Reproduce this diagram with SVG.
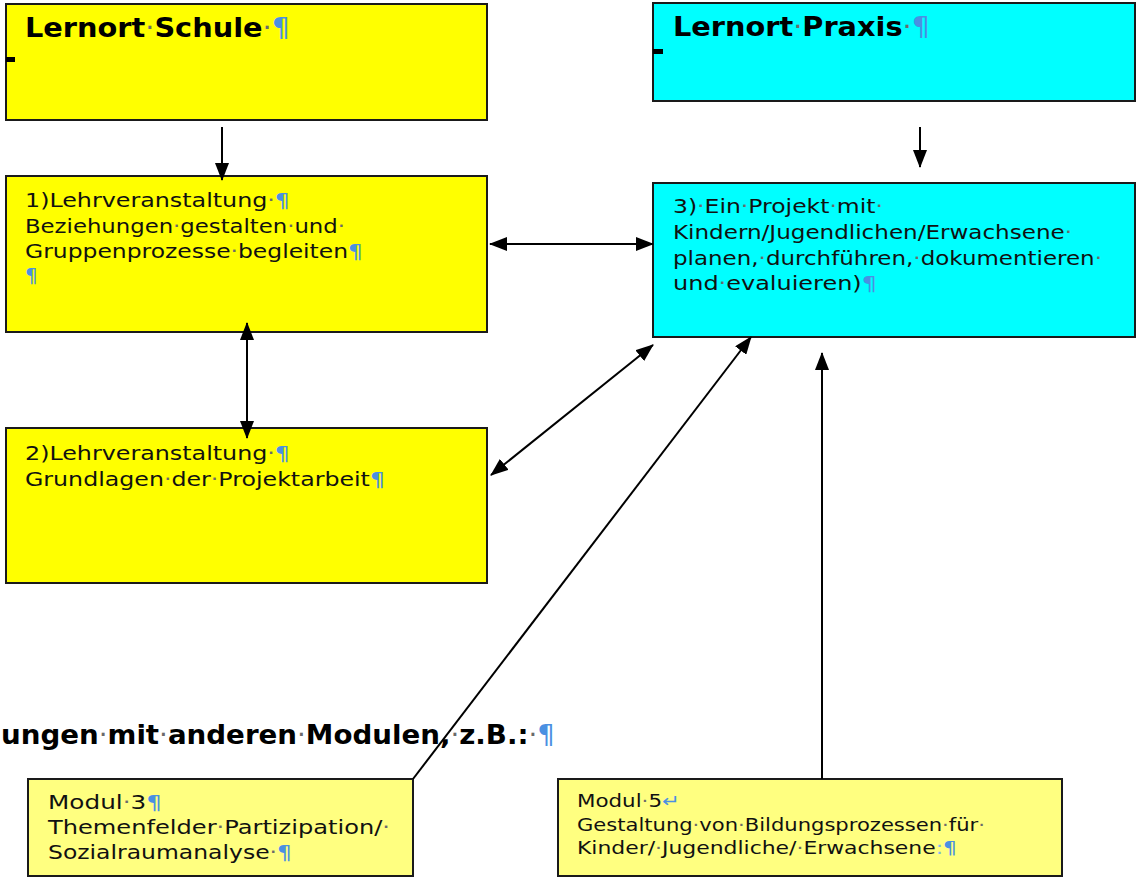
<svg xmlns="http://www.w3.org/2000/svg" width="1136" height="880" viewBox="0 0 1136 880">
<defs>
<marker id="ah" markerUnits="userSpaceOnUse" markerWidth="18" markerHeight="14" refX="17" refY="7" orient="auto-start-reverse" viewBox="0 0 18 14">
<path d="M0,0 L18,7 L0,14 z" fill="#000"/>
</marker>
<style>
.box{stroke:#1a1a1a;stroke-width:2}
.y{fill:#ffff00}
.c{fill:#00ffff}
.m{fill:#ffff80}
.t{font-family:"DejaVu Sans","Verdana",sans-serif;fill:#111}
.h{font-family:"DejaVu Sans","Verdana",sans-serif;font-weight:bold;font-size:26px;fill:#000}
.b{font-size:20px}
.s{font-size:19px}
.s5{font-size:17.5px}
.p{fill:#4a90e2;font-weight:normal}
.lb{fill:#7fb6ee}
.d{fill:#6a6a6a;font-weight:normal}
.con{stroke:#000;stroke-width:2;fill:none}
</style>
</defs>

<g id="lernort-schule">
<rect class="box y" x="6" y="4" width="481" height="116"/>
<rect x="6" y="57" width="9" height="5" fill="#000"/>
<text class="h" x="25" y="37" textLength="265" lengthAdjust="spacingAndGlyphs">Lernort<tspan class="d">·</tspan>Schule<tspan class="d">·</tspan><tspan class="p">¶</tspan></text>
</g>

<g id="lernort-praxis">
<rect class="box c" x="653" y="3" width="482" height="98"/>
<rect x="653" y="49" width="10" height="5" fill="#000"/>
<text class="h" x="673" y="36" textLength="257" lengthAdjust="spacingAndGlyphs">Lernort<tspan class="d">·</tspan>Praxis<tspan class="d">·</tspan><tspan class="p">¶</tspan></text>
</g>

<g id="lv1">
<rect class="box y" x="6" y="176" width="481" height="156"/>
<text class="t b" x="25" y="207" textLength="265" lengthAdjust="spacingAndGlyphs">1)Lehrveranstaltung<tspan class="d">·</tspan><tspan class="p">¶</tspan></text>
<text class="t b" x="25" y="233" textLength="320" lengthAdjust="spacingAndGlyphs">Beziehungen<tspan class="d">·</tspan>gestalten<tspan class="d">·</tspan>und<tspan class="d">·</tspan></text>
<text class="t b" x="25" y="258" textLength="338" lengthAdjust="spacingAndGlyphs">Gruppenprozesse<tspan class="d">·</tspan>begleiten<tspan class="p">¶</tspan></text>
<text class="t b" x="25" y="282"><tspan class="p">¶</tspan></text>
</g>

<g id="lv2">
<rect class="box y" x="6" y="428" width="481" height="155"/>
<text class="t b" x="25" y="460" textLength="265" lengthAdjust="spacingAndGlyphs">2)Lehrveranstaltung<tspan class="d">·</tspan><tspan class="p">¶</tspan></text>
<text class="t b" x="25" y="486" textLength="360" lengthAdjust="spacingAndGlyphs">Grundlagen<tspan class="d">·</tspan>der<tspan class="d">·</tspan>Projektarbeit<tspan class="p">¶</tspan></text>
</g>

<g id="projekt">
<rect class="box c" x="653" y="183" width="482" height="154"/>
<text class="t b" x="673" y="213" textLength="210" lengthAdjust="spacingAndGlyphs">3)<tspan class="d">·</tspan>Ein<tspan class="d">·</tspan>Projekt<tspan class="d">·</tspan>mit<tspan class="d">·</tspan></text>
<text class="t b" x="673" y="239" textLength="399" lengthAdjust="spacingAndGlyphs">Kindern/Jugendlichen/Erwachsene<tspan class="d">·</tspan></text>
<text class="t b" x="673" y="265" textLength="429" lengthAdjust="spacingAndGlyphs">planen,<tspan class="d">·</tspan>durchführen,<tspan class="d">·</tspan>dokumentieren<tspan class="d">·</tspan></text>
<text class="t b" x="673" y="290" textLength="204" lengthAdjust="spacingAndGlyphs">und<tspan class="d">·</tspan>evaluieren)<tspan class="p">¶</tspan></text>
</g>

<g id="heading">
<text class="h" x="1" y="744" textLength="554" lengthAdjust="spacingAndGlyphs">ungen<tspan class="d">·</tspan>mit<tspan class="d">·</tspan>anderen<tspan class="d">·</tspan>Modulen,<tspan class="d">·</tspan>z.B.:<tspan class="d">·</tspan><tspan class="p">¶</tspan></text>
</g>

<g id="modul3">
<rect class="box m" x="28" y="779" width="385" height="97"/>
<text class="t s" x="48" y="809" textLength="114" lengthAdjust="spacingAndGlyphs">Modul<tspan class="d">·</tspan>3<tspan class="p">¶</tspan></text>
<text class="t s" x="48" y="834" textLength="342" lengthAdjust="spacingAndGlyphs">Themenfelder<tspan class="d">·</tspan>Partizipation/<tspan class="d">·</tspan></text>
<text class="t s" x="48" y="859" textLength="244" lengthAdjust="spacingAndGlyphs">Sozialraumanalyse<tspan class="d">·</tspan><tspan class="p">¶</tspan></text>
</g>

<g id="modul5">
<rect class="box m" x="558" y="779" width="504" height="97"/>
<text class="t s5" x="577" y="807" textLength="103" lengthAdjust="spacingAndGlyphs">Modul<tspan class="d">·</tspan>5<tspan class="p">↵</tspan></text>
<text class="t s5" x="577" y="831" textLength="408" lengthAdjust="spacingAndGlyphs">Gestaltung<tspan class="d">·</tspan>von<tspan class="d">·</tspan>Bildungsprozessen<tspan class="d">·</tspan>für<tspan class="d">·</tspan></text>
<text class="t s5" x="577" y="854" textLength="380" lengthAdjust="spacingAndGlyphs">Kinder/<tspan class="d">·</tspan>Jugendliche/<tspan class="d">·</tspan>Erwachsene<tspan class="lb">:</tspan><tspan class="p">¶</tspan></text>
</g>

<g id="connectors">
<line class="con" x1="222" y1="127" x2="222" y2="180" marker-end="url(#ah)"/>
<line class="con" x1="920" y1="127" x2="920" y2="167" marker-end="url(#ah)"/>
<line class="con" x1="490" y1="244" x2="653" y2="244" marker-start="url(#ah)" marker-end="url(#ah)"/>
<line class="con" x1="247" y1="323" x2="247" y2="438" marker-start="url(#ah)" marker-end="url(#ah)"/>
<line class="con" x1="491" y1="475" x2="653" y2="345" marker-start="url(#ah)" marker-end="url(#ah)"/>
<line class="con" x1="413" y1="779" x2="751" y2="337" marker-end="url(#ah)"/>
<line class="con" x1="822" y1="779" x2="822" y2="353" marker-end="url(#ah)"/>
</g>
</svg>
